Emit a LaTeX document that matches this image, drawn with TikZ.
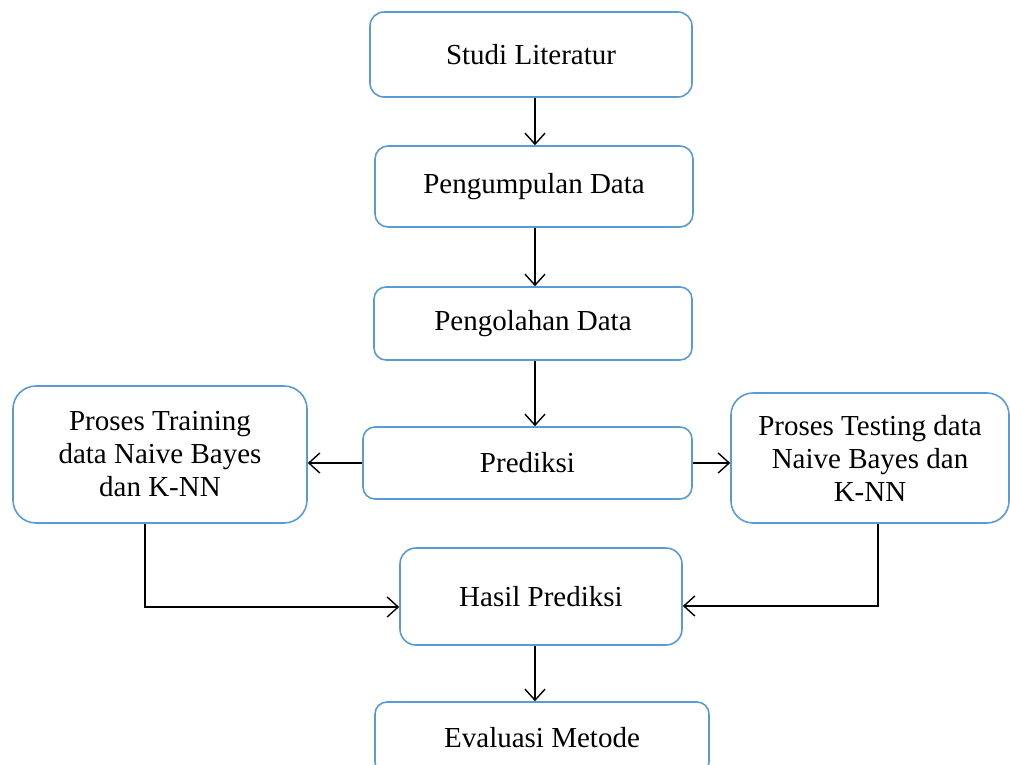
\documentclass[tikz,border=0pt]{standalone}
\usepackage{fontspec}
\setmainfont{Liberation Serif}
\usetikzlibrary{arrows.meta}
\definecolor{boxblue}{RGB}{91,155,213}
\begin{document}
\begin{tikzpicture}[x=1pt,y=-1pt,
  box/.style={draw=boxblue, line width=1.6pt, rounded corners=#1, fill=white,
    align=center, font=\fontsize{29}{33}\selectfont, inner sep=0pt},
  box/.default=14pt,
  arr/.style={-{Straight Barb[length=11pt,width=20pt]}, line width=1.4pt, black}]
\useasboundingbox (0,0) rectangle (1010,764);
\clip (0,0) rectangle (1010,764);

\node[box=14pt, minimum width=322pt, minimum height=85pt] (studi) at (531,54.5) {Studi Literatur};
\node[box=13pt, minimum width=318pt, minimum height=81pt] (kumpul) at (534,186.5) {Pengumpulan Data};
\node[box=12pt, minimum width=318pt, minimum height=73pt] (olah) at (533,323.5) {Pengolahan Data};
\node[box=12pt, minimum width=329pt, minimum height=72pt] (pred) at (527.5,463) {Prediksi};
\node[box=23pt, minimum width=294pt, minimum height=137pt] (train) at (160,454.5) {Proses Training\\data Naive Bayes\\dan K-NN};
\node[box=22pt, minimum width=278pt, minimum height=130pt] (test) at (870,458) {Proses Testing data\\Naive Bayes dan\\K-NN};
\node[box=16pt, minimum width=282pt, minimum height=97pt] (hasil) at (541,596.5) {Hasil Prediksi};
\node[box=12pt, minimum width=334pt, minimum height=72pt] (eval) at (542,738) {Evaluasi Metode};

\coordinate (ax) at (535,0);
\coordinate (tl) at (145,607);
\coordinate (tr) at (878,606);

\draw[arr] (studi.south -| ax) -- (kumpul.north -| ax);
\draw[arr] (kumpul.south -| ax) -- (olah.north -| ax);
\draw[arr] (olah.south -| ax) -- (pred.north -| ax);
\draw[arr] (pred.west) -- (train.east |- pred.west);
\draw[arr] (pred.east) -- (test.west |- pred.east);
\draw[arr] (train.south -| tl) |- (hasil.west |- tl);
\draw[arr] (test.south -| tr) |- (hasil.east |- tr);
\draw[arr] (hasil.south -| ax) -- (eval.north -| ax);
\end{tikzpicture}
\end{document}
